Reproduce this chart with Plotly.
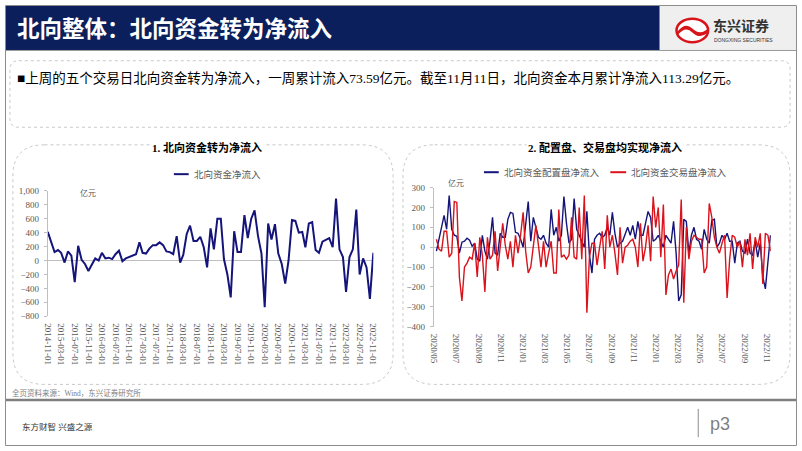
import plotly.graph_objects as go
import pandas as pd

W, H = 802, 451

# ---------------- data ----------------
c1_start = "2014-11-01"
c1_values = [410, 260, 120, 150, 110, -30, 130, 70, -310, 210, 10, -50, -150, -60, 30, 0,
             110, 30, 40, 20, 90, 140, -10, 30, 50, 60, 90, 260, 110, 100, 170, 220,
             220, 260, 220, 130, 120, 90, 350, -30, 80, 380, 500, 280, 280, 340, 190, -100,
             460, 160, 600, 600, 20, -200, -530, 420, 120, 120, 650, 320, 600, 720, 350, 100,
             -670, 530, 300, 520, 100, -50, -330, 0, 580, 570, 400, 410, 190, 530, 550, 150,
             110, 270, 300, 320, 190, 890, 160, 50, -450, 50, 160, 730, -200, 30, -100, -550,
             110]

c2_end = "2022-11-11"
alloc = [-20, 40, 85, 160, 90, 260, 90, 60, 55, -30, 25, 30, 45, 35, 5, 20, -60, -70, 60, -20,
         -60, 30, 150, -30, -40, 70, 50, 50, 140, 175, 170, 75, 70, 40, 0, 120, 230, 30, 150, 100,
         50, 40, 60, 20, 0, 190, 60, 100, 30, 60, 255, 120, 20, 40, 245, 90, 60, 30, 0, 180,
         -40, -130, 40, 60, 70, 50, 60, 100, 60, 175, 70, 0, 20, 30, 70, 100, 60, 110, 40, 130,
         60, 60, 120, 180, 150, 30, 40, 60, 30, 0, 60, 40, 20, 130, -30, -270, -240, 140, 130, -30,
         60, 100, 40, 30, -10, 90, 40, 20, 135, 140, 0, 20, 60, 40, 70, 30, 30, -80, 20, 30,
         -20, -30, 40, -30, -40, 30, -50, 20, -150, -210, -60, 60]
trade = [40, -10, -20, 80, 80, -50, -30, 230, 225, -150, -270, -100, -80, -50, -60, 20, -150, 50, -40, -225,
         50, -60, -40, 80, -120, 0, 120, 10, -60, 30, -100, 60, -30, 60, 175, -20, -130, -100, 0, 110,
         10, -100, 30, -100, -30, 30, -130, -130, 190, -50, -40, -60, -40, 150, -50, -60, 200, -60, 260, -330,
         -50, 20, 20, -90, 0, 80, -110, 160, 0, 60, -30, -140, 100, -80, 0, 10, 30, 40, 0, -100,
         120, -70, 0, 110, -70, 255, 100, 200, -50, 215, -240, -140, -110, -160, -120, -90, 240, -280, 100, -60,
         30, 60, 50, 40, 40, -130, -100, 220, 150, 50, 0, -30, 20, 60, -255, -60, 60, 50, 0, 30,
         -100, 40, -40, 70, -110, 50, 0, 70, -185, 70, 60, -20]

c1_ticks_y = [1000, 800, 600, 400, 200, 0, -200, -400, -600, -800]
c2_ticks_y = [300, 200, 100, 0, -100, -200, -300, -400]

title_main = "北向整体：北向资金转为净流入"
body_text = "■上周的五个交易日北向资金转为净流入，一周累计流入73.59亿元。截至11月11日，北向资金本月累计净流入113.29亿元。"
c1_title = "1. 北向资金转为净流入"
c2_title = "2. 配置盘、交易盘均实现净流入"
c1_name = "北向资金净流入"
c2_names = ["北向资金配置盘净流入", "北向资金交易盘净流入"]
unit = "亿元"
source = "全页资料来源：Wind，东兴证券研究所"
slogan = "东方财智 兴盛之源"

# ---------------- helpers ----------------
def fx(px):
    return px / W

def fy(py):
    return 1 - py / H

def rrect(x0, y0, x1, y1, r):
    X = lambda v: f"{fx(v):.5f}"
    Y = lambda v: f"{fy(v):.5f}"
    return (f"M {X(x0+r)},{Y(y0)} L {X(x1-r)},{Y(y0)} Q {X(x1)},{Y(y0)} {X(x1)},{Y(y0+r)} "
            f"L {X(x1)},{Y(y1-r)} Q {X(x1)},{Y(y1)} {X(x1-r)},{Y(y1)} L {X(x0+r)},{Y(y1)} "
            f"Q {X(x0)},{Y(y1)} {X(x0)},{Y(y1-r)} L {X(x0)},{Y(y0+r)} Q {X(x0)},{Y(y0)} {X(x0+r)},{Y(y0)} Z")

SERIF = "Liberation Serif, Noto Sans CJK SC"
CJK = "Noto Sans CJK SC, sans-serif"
GRAY = "#595959"
NAVY = "#14147a"
RED = "#d9121b"
LOGO_RED = "#d7141a"

c1_dates = pd.date_range(c1_start, periods=len(c1_values), freq="MS")
alloc_dates = pd.date_range(end=c2_end, periods=len(alloc), freq="W-FRI")
trade_dates = pd.date_range(end=c2_end, periods=len(trade), freq="W-FRI")

fig = go.Figure()
fig.add_trace(go.Scatter(x=c1_dates, y=c1_values, mode="lines", line=dict(color=NAVY, width=2),
                         xaxis="x", yaxis="y", showlegend=False, hoverinfo="skip"))
fig.add_trace(go.Scatter(x=alloc_dates, y=alloc, mode="lines", line=dict(color=NAVY, width=1.4),
                         xaxis="x2", yaxis="y2", showlegend=False, hoverinfo="skip"))
fig.add_trace(go.Scatter(x=trade_dates, y=trade, mode="lines", line=dict(color=RED, width=1.4),
                         xaxis="x2", yaxis="y2", showlegend=False, hoverinfo="skip"))

shapes = []
# outer border
shapes.append(dict(type="rect", xref="paper", yref="paper", x0=fx(0.5), x1=fx(801.5), y0=fy(450.5), y1=fy(0.5),
                   line=dict(color="#8c8c8c", width=1), fillcolor="rgba(0,0,0,0)", layer="above"))
# header band
shapes.append(dict(type="rect", xref="paper", yref="paper", x0=fx(1), x1=fx(663), y0=fy(46), y1=fy(1),
                   line=dict(width=0), fillcolor="#0b1f5c", layer="below"))
shapes.append(dict(type="rect", xref="paper", yref="paper", x0=fx(663), x1=fx(801), y0=fy(46), y1=fy(1),
                   line=dict(width=0), fillcolor="#efefef", layer="below"))
shapes.append(dict(type="line", xref="paper", yref="paper", x0=fx(1), x1=fx(801), y0=fy(46.5), y1=fy(46.5),
                   line=dict(color="#9a9a9a", width=1)))
# logo: red ring with white inside and red roof-like waves
shapes.append(dict(type="circle", xref="paper", yref="paper", x0=fx(680), x1=fx(712), y0=fy(38), y1=fy(14),
                   line=dict(color=LOGO_RED, width=2.5), fillcolor="white"))
shapes.append(dict(type="path", xref="paper", yref="paper",
                   path=f"M {fx(681):.5f},{fy(27):.5f} Q {fx(689):.5f},{fy(17):.5f} {fx(696):.5f},{fy(24):.5f} "
                        f"Q {fx(703):.5f},{fy(31):.5f} {fx(711):.5f},{fy(25):.5f} L {fx(711):.5f},{fy(29):.5f} "
                        f"Q {fx(703):.5f},{fy(35):.5f} {fx(696):.5f},{fy(28):.5f} "
                        f"Q {fx(689):.5f},{fy(21):.5f} {fx(681):.5f},{fy(31):.5f} Z",
                   line=dict(width=0), fillcolor=LOGO_RED))
# text box
shapes.append(dict(type="path", xref="paper", yref="paper", path=rrect(5, 57, 795, 125, 9),
                   line=dict(color="#c8c8c8", width=1, dash="dot")))
# panels
shapes.append(dict(type="path", xref="paper", yref="paper", path=rrect(8, 143, 393, 388, 32),
                   line=dict(color="#c8c8c8", width=1, dash="dot"), layer="below"))
shapes.append(dict(type="path", xref="paper", yref="paper", path=rrect(403, 143, 795, 388, 32),
                   line=dict(color="#c8c8c8", width=1, dash="dot"), layer="below"))
# legends
shapes.append(dict(type="line", xref="paper", yref="paper", x0=fx(171), x1=fx(186), y0=fy(173), y1=fy(173),
                   line=dict(color=NAVY, width=2)))
shapes.append(dict(type="line", xref="paper", yref="paper", x0=fx(485), x1=fx(500), y0=fy(171), y1=fy(171),
                   line=dict(color=NAVY, width=2)))
shapes.append(dict(type="line", xref="paper", yref="paper", x0=fx(613), x1=fx(629), y0=fy(171), y1=fy(171),
                   line=dict(color=RED, width=2)))
# footer
shapes.append(dict(type="line", xref="paper", yref="paper", x0=fx(1), x1=fx(801), y0=fy(404), y1=fy(404),
                   line=dict(color="#7f7f7f", width=2.5)))
shapes.append(dict(type="line", xref="paper", yref="paper", x0=fx(702), x1=fx(702), y0=fy(413), y1=fy(442),
                   line=dict(color="#8c8c8c", width=1)))

ann = []
def text(x, y, s, size, color="#000", family=CJK, anchor="left", bold=False, bg=None, valign="middle"):
    d = dict(x=fx(x), y=fy(y), xref="paper", yref="paper", text=(f"<b>{s}</b>" if bold else s),
             showarrow=False, xanchor=anchor, yanchor=valign,
             font=dict(size=size, color=color, family=family))
    if bg:
        d["bgcolor"] = bg
    ann.append(d)

text(10, 23, title_main, 22.5, "white", CJK, bold=True)
text(715, 20, "东兴证券", 14, "#333333", CJK, bold=True)
text(716, 35.5, "DONGXING SECURITIES", 5, "#333333", "Liberation Sans")
text(10, 75, body_text, 13.5, "#000000", SERIF)
text(205, 146, c1_title, 11, "#000000", SERIF, anchor="center", bold=True, bg="white")
text(608, 146, c2_title, 11, "#000000", SERIF, anchor="center", bold=True, bg="white")
text(189, 173, c1_name, 9.5, GRAY, SERIF)
text(503, 171, c2_names[0], 9.5, GRAY, SERIF)
text(632, 171, c2_names[1], 9.5, GRAY, SERIF)
text(74, 192, unit, 8, GRAY, SERIF)
text(447, 182, unit, 8, GRAY, SERIF)
text(5, 397, source, 7.5, "#7f7f7f", SERIF)
text(15, 432, slogan, 8.5, "#333333", SERIF)
text(712, 428, "p3", 18, "#7f7f7f", "Liberation Sans")

yaxis_common = dict(showgrid=False, ticks="outside", ticklen=3, tickcolor="#bfbfbf", ticklabelstandoff=3,
                    tickfont=dict(size=9, color=GRAY, family=SERIF))
xaxis_common = dict(showgrid=False, ticks="", ticklabelstandoff=6,
                    tickfont=dict(size=9, color=GRAY, family=SERIF))

fig.update_layout(
    width=W, height=H, margin=dict(l=0, r=0, t=0, b=0),
    paper_bgcolor="white", plot_bgcolor="rgba(0,0,0,0)",
    shapes=shapes, annotations=ann,
    xaxis=dict(domain=[fx(43.3), fx(373)], type="date", range=[c1_dates[0], c1_dates[-1]],
               tick0=c1_start, dtick="M4", tickformat="%Y-%m-%d", tickangle=90,
               showline=False, zeroline=False, anchor="y", **xaxis_common),
    yaxis=dict(domain=[fy(318.3), fy(190)], range=[-800, 1000], tickvals=c1_ticks_y, tickformat=",",
               showline=True, linecolor="#bfbfbf", linewidth=1, zeroline=True, zerolinecolor="#bfbfbf",
               zerolinewidth=1, anchor="x", **yaxis_common),
    xaxis2=dict(domain=[fx(434.3), fx(775.5)], type="date", range=["2020-05-01", "2022-11-12"],
                tick0="2020-05-01", dtick="M2", tickformat="%Y/%m", tickangle=90,
                showline=False, zeroline=False, anchor="y2", **xaxis_common),
    yaxis2=dict(domain=[fy(329), fy(186.7)], range=[-400, 300], tickvals=c2_ticks_y,
                showline=True, linecolor="#bfbfbf", linewidth=1, zeroline=True, zerolinecolor="#bfbfbf",
                zerolinewidth=1, anchor="x2", **yaxis_common),
)

fig.write_html("out.html")
